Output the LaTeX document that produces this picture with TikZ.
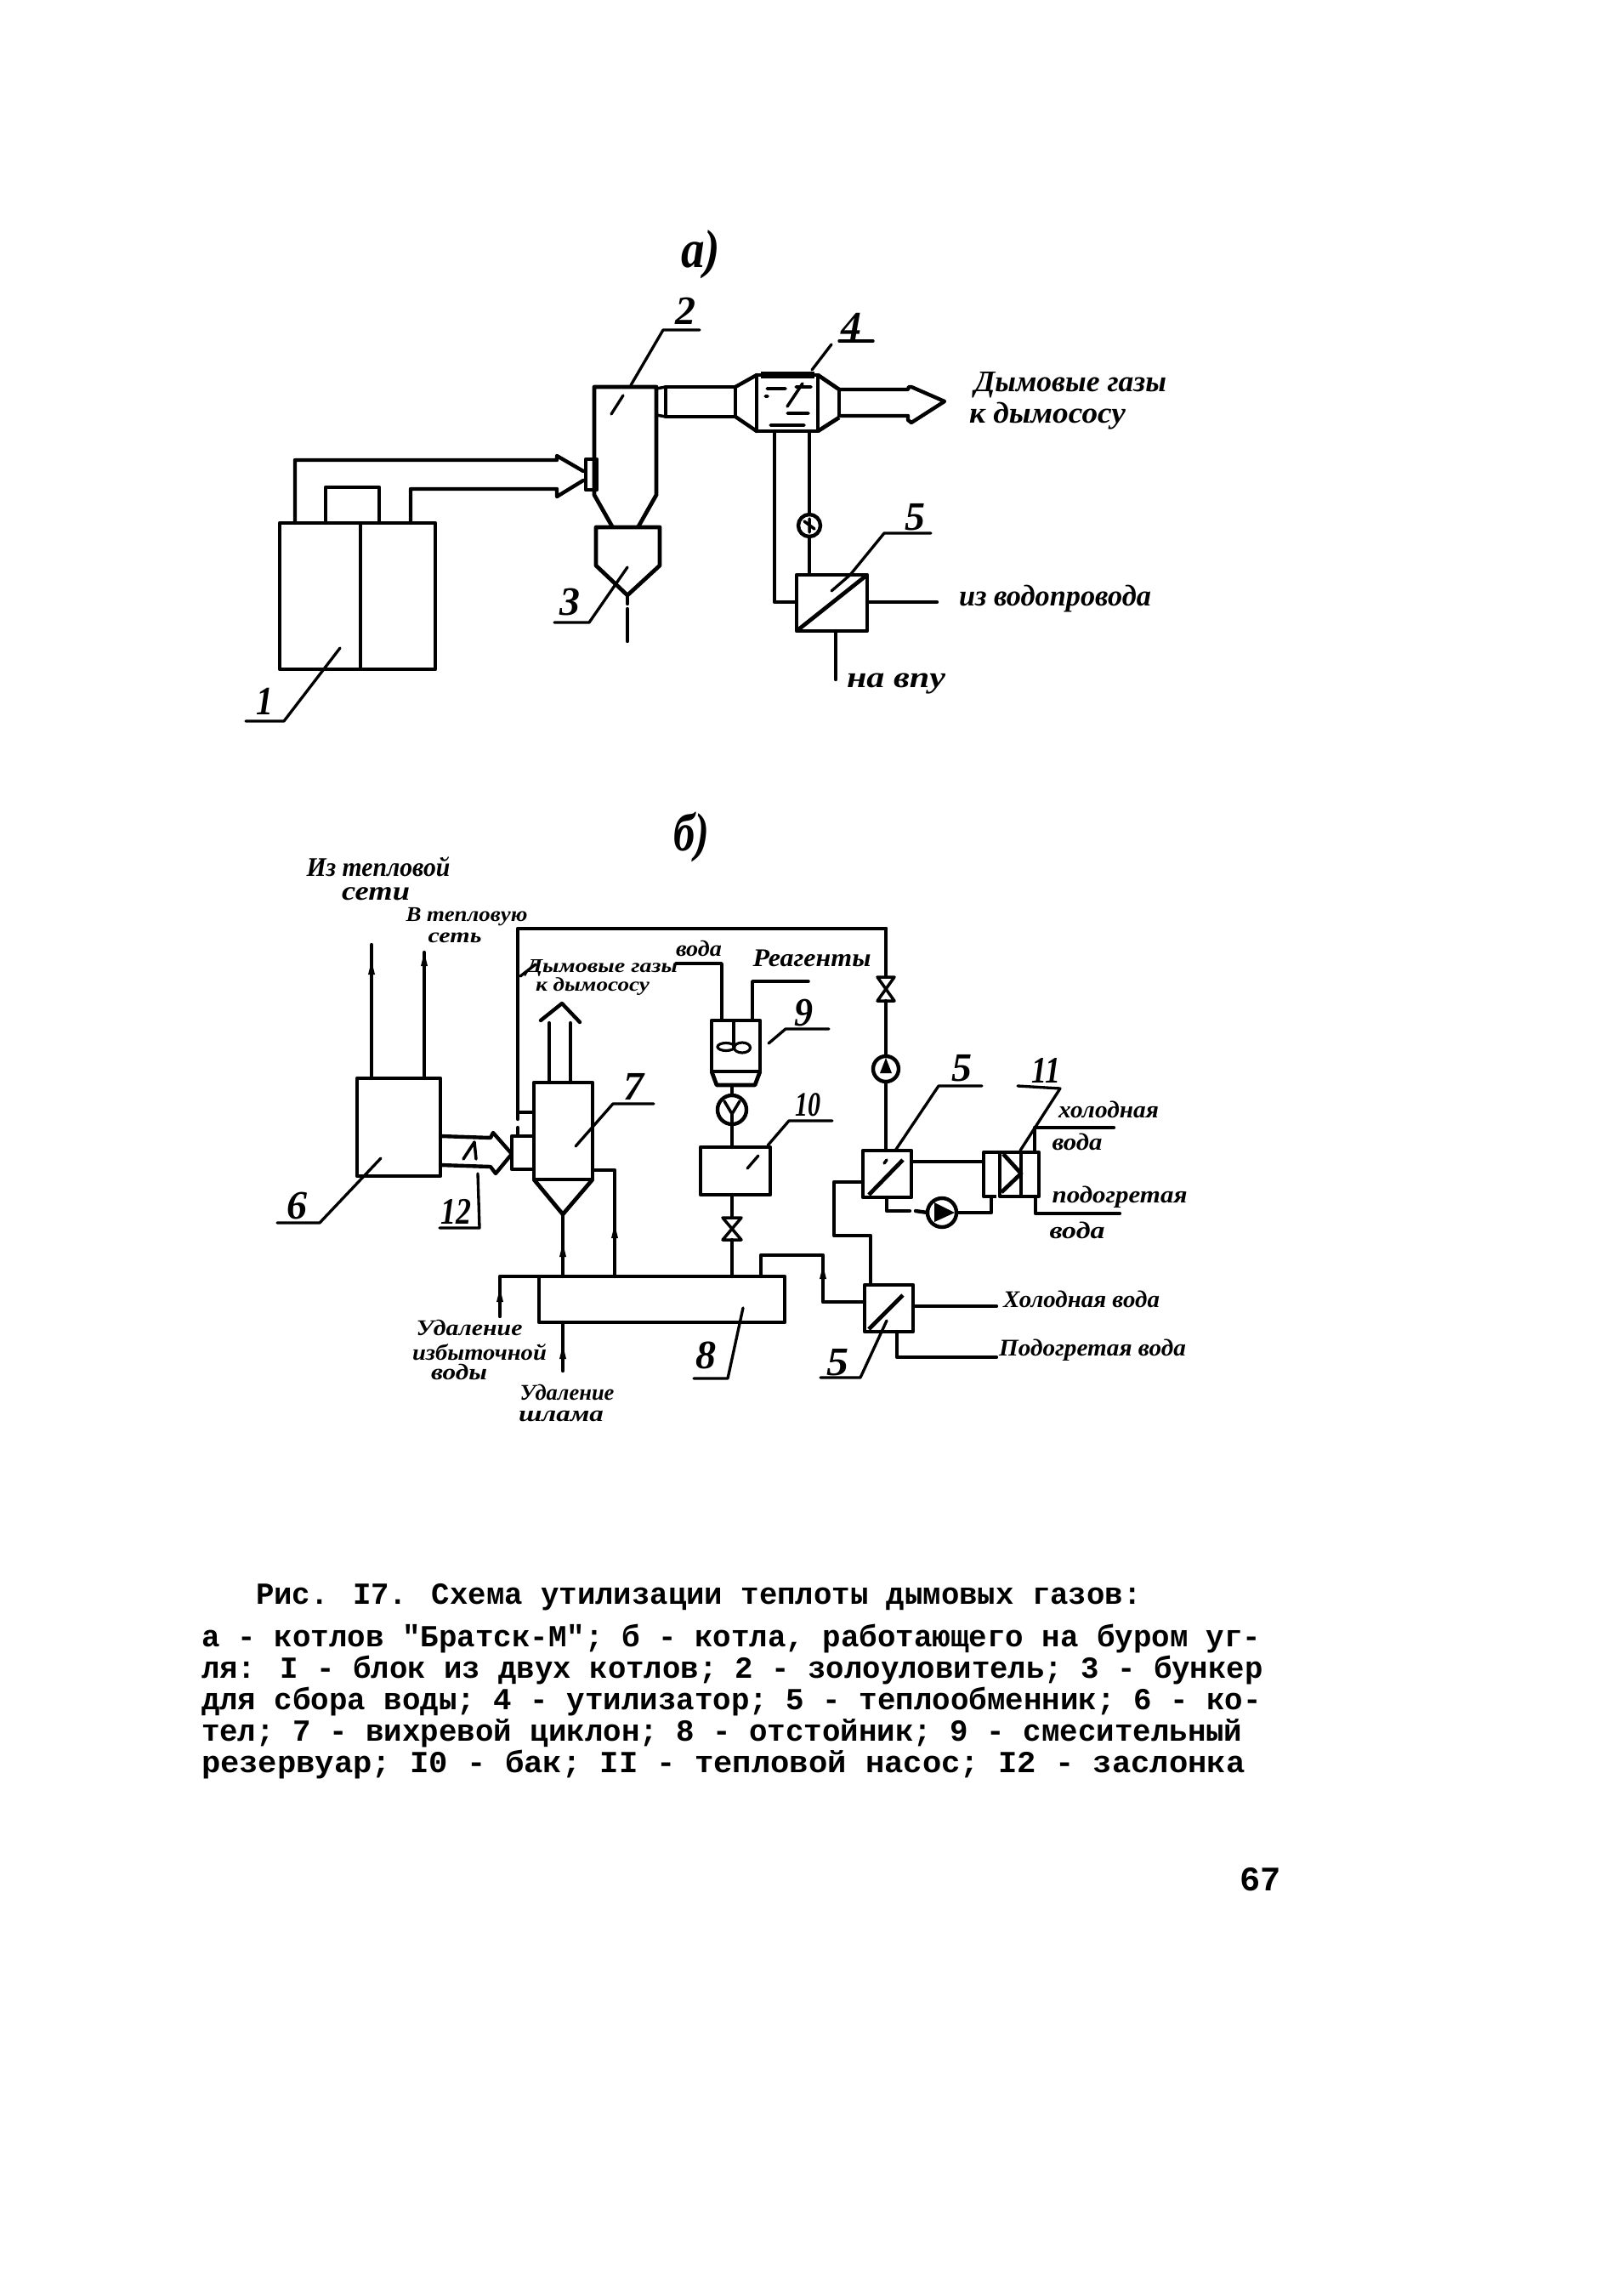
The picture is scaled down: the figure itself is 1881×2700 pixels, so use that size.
\documentclass[tikz,border=0pt]{standalone}
\usepackage{fontspec}
\setmainfont{Liberation Serif}
\newfontfamily\handf{Liberation Serif}
\newfontfamily\typef{Liberation Mono}
\newdimen\pxu \pxu=0.5690pt
% hand-lettered text: width in px, font size in pt
\newcommand\hw[3]{\resizebox{#1\pxu}{\height}{\fontsize{#2}{#2}\handf\bfseries\itshape #3}}
% typewritten caption line fitted to a width in px
\newcommand\tw[2]{\resizebox{#1\pxu}{\height}{\fontsize{20.5}{24}\typef\bfseries #2}}
\newcommand\rbox[5]{\node[proc,minimum width={(#4-#2)*0.02cm},minimum height={(#5-#3)*0.02cm}] (#1) at ({(#2+#4)/2},{(#3+#5)/2}) {};}
\newcommand\vlv[5]{\coordinate (#1) at (#2,#3); \draw[thinp] ($(#1)+(-#4,-#5)$) -- ($(#1)+(#4,-#5)$) -- ($(#1)+(-#4,#5)$) -- ($(#1)+(#4,#5)$) -- cycle;}
\newcommand\tickup[2]{\fill (#1-4,#2+8) -- (#1,#2-8) -- (#1+4,#2+8) -- cycle;}
\usetikzlibrary{calc,shapes.geometric}
\tikzset{
 proc/.style={draw,line width=2.7pt,rectangle,inner sep=0pt,outer sep=0pt,line join=round},
 pipe/.style={line width=2.5pt,line join=round,line cap=round},
 thinp/.style={line width=2pt,line join=round,line cap=round},
 lead/.style={line width=1.9pt,line join=round,line cap=round},
 pumpc/.style={draw,circle,line width=2.5pt,inner sep=0pt,outer sep=0pt},
 mixb/.style={draw,ellipse,line width=1.8pt,inner sep=0pt,outer sep=0pt},
 lbl/.style={inner sep=0pt,outer sep=0pt,anchor=center},
 capt/.style={inner sep=0pt,outer sep=0pt,anchor=west},
}
\begin{document}
\begin{tikzpicture}[x=0.02cm,y=-0.02cm]
\useasboundingbox (0,0) rectangle (1881,2700);
\fill[white] (0,0) rectangle (1881,2700);

% ===== a) =====
\node[lbl] (ta) at (824,299) {\hw{46}{36}{а)}};

% block 1
\rbox{b1}{329}{615}{512}{787}
\draw[proc] (424,0 |- b1.north) -- (424,0 |- b1.south);
\coordinate (gA) at (655,541);
\coordinate (gB) at (655,575);
\draw[pipe] (347,0 |- b1.north) |- (gA) -- (655,536) -- (686,554);
\draw[pipe] (483,0 |- b1.north) |- (gB) -- (655,584) -- (686,565);
\draw[pipe] (383,0 |- b1.north) |- (446,573) -- (446,0 |- b1.north);
% nozzle
\rbox{nz}{689}{540}{702}{576}
% cyclone 2
\draw[proc] (720,619) -- (699,582) -- (699,455) -- (772,455) -- (772,582) -- (751,619);
% bunker 3
\draw[proc] (738,700) -- (701,665) -- (701,620) -- (776,620) -- (776,665) -- cycle;
\draw[pipe] (738,700) -- (738,710);
\draw[pipe] (738,716) -- (738,754);
% duct
\rbox{dc}{783}{455}{865}{490}
\draw[thinp] (772,457) -- (dc.north west);
\draw[thinp] (772,488) -- (dc.south west);
% heat recovery 4
\rbox{u4}{890}{441}{962}{507}
\draw[pipe] (dc.north east) -- (u4.north west);
\draw[pipe] (dc.south east) -- (u4.south west);
\draw[proc] (987,458) -- (u4.north east);
\draw[proc] (987,491) -- (u4.south east);
\draw[proc] (987,458) -- (987,491);
\draw[line width=4pt] (895,441) -- (958,441);
\draw[thinp] (902,457) -- (924,457) (936,455) -- (954,455) (944,451) -- (926,478) (926,486) -- (951,486) (906,500) -- (946,500) (900,466) -- (903,466);
% outlet arrow
\draw[pipe] (987,458) -- (1068,458) -- (1069,455) -- (1072,455) -- (1111,472) -- (1072,497) -- (1068,494) -- (1068,489) -- (987,489);
% heat exchanger 5
\rbox{h5a}{937}{676}{1020}{742}
\draw[proc] (h5a.south west) -- (h5a.north east);
\node[pumpc,minimum size=26*0.02cm] (pa) at (952,618) {};
\draw[thinp] ($(pa)+(-6,-5)$) -- ($(pa)+(6,4)$) ($(pa)+(0,-8)$) -- ($(pa)+(0,8)$);
\draw[pipe] (911,0 |- u4.south) |- (936,708);
\draw[pipe] (pa |- u4.south) -- (pa.north);
\draw[pipe] (pa.south) -- (pa |- h5a.north);
\coordinate (wA) at (1102,708);
\draw[pipe] (h5a.east |- wA) -- (wA);
\coordinate (wB) at (983,799);
\draw[pipe] (wB |- h5a.south) -- (wB);
% leaders a)
\draw[lead] (823,388) -- (780,388) -- (742,453);
\draw[lead] (733,465) -- (719,487);
\draw[lead] (652,732) -- (693,732) -- (738,667);
\draw[lead] (289,848) -- (334,848) -- (400,762);
\draw[lead] (955,435) -- (978,405);
\draw[lead] (987,401) -- (1027,401);
\draw[lead] (1095,627) -- (1040,627) -- (1000,676);
\draw[lead] (1000,676) -- (978,695);
% numbers a)
\node[lbl] (n2) at (806,366) {\hw{24}{27}{2}};
\node[lbl] (n3) at (670,708) {\hw{24}{27}{3}};
\node[lbl] (n1) at (311,825) {\hw{20}{27}{1}};
\node[lbl] (n4) at (1001,384) {\hw{24}{27}{4}};
\node[lbl] (n5) at (1076,608) {\hw{24}{27}{5}};
% texts a)
\node[lbl] (t1) at (1259,453) {\hw{226}{20}{Дымовые газы}};
\node[lbl] (t2) at (1232,489) {\hw{184}{20}{к дымососу}};
\node[lbl] (t3) at (1241,704) {\hw{226}{20}{из водопровода}};
\node[lbl] (t4) at (1054,804) {\hw{116}{20}{на впу}};

% ===== б) =====
\node[lbl] (tb) at (813,985) {\hw{42}{36}{б)}};
% boiler 6
\rbox{b6}{420}{1268}{518}{1383}
\coordinate (n6a) at (437,1111);
\coordinate (n6b) at (499,1120);
\draw[pipe] (n6a |- b6.north) -- (n6a);
\draw[pipe] (n6b |- b6.north) -- (n6b);
\tickup{437}{1138}
\tickup{499}{1128}
% gas duct with damper
\draw[pipe] (518,1336) -- (577,1338) -- (580,1332) -- (602,1357) -- (583,1380) -- (577,1372) -- (518,1370);
\draw[thinp] (545,1363) -- (558,1343) -- (560,1363);
% nozzle + cyclone 7
\rbox{c7}{628}{1273}{697}{1387}
\rbox{nz7}{602}{1336}{628}{1375}
\draw[proc] (c7.south west) -- (662,1428) -- (c7.south east);
% gas outlet
\coordinate (o7) at (661,1180);
\draw[pipe] (646,0 |- c7.north) -- (646,1203);
\draw[pipe] (671,0 |- c7.north) -- (671,1203);
\draw[pipe] (636,1200) -- (o7) -- (682,1202);
% settler 8
\rbox{s8}{634}{1501}{923}{1555}
\draw[pipe] (662,1428) -- (662,0 |- s8.north);
\tickup{662}{1470}
\draw[pipe] (697,1376) -| (723,0 |- s8.north);
\tickup{723}{1448}
\coordinate (lo) at (588,1548);
\draw[pipe] (s8.north west) -| (lo);
\tickup{588}{1523}
\coordinate (sl) at (662,1612);
\draw[pipe] (sl |- s8.south) -- (sl);
\tickup{662}{1590}
% water header
\coordinate (tl) at (609,1092);
\draw[pipe] (609,1316) -- (tl) -- (1042,1092);
\draw[pipe] (609,1326) -- (609,1336);
\draw[pipe] (609,1308) -- (628,1308);
\draw[lead] (612,1148) -- (630,1134);
% mixer 9
\draw[proc] (837,1200) rectangle (894,1260);
\draw[proc] (837,1260) -- (843,1276) -- (888,1276) -- (894,1260);
\coordinate (m9) at (863,1231);
\draw[thinp] (863,1200) -- (m9);
\node[mixb,minimum width=20*0.02cm,minimum height=9*0.02cm] (e1) at (854,1231) {};
\node[mixb,minimum width=19*0.02cm,minimum height=12*0.02cm] (e2) at (873,1232) {};
\draw[thinp] (795,1133) -| (849,1200);
\draw[thinp] (885,1200) |- (951,1154);
% pump, tank 10
\node[pumpc,minimum size=34*0.02cm] (p9) at (861,1305) {};
\rbox{t10}{824}{1349}{906}{1405}
\draw[pipe] (861,1276) -- (p9.north);
\draw[thinp] ($(p9)+(-9,-10)$) -- ($(p9)+(0,5)$) -- ($(p9)+(9,-10)$);
\draw[pipe] ($(p9)+(0,5)$) -- (861,0 |- t10.north);
% valve tank-settler
\vlv{v2}{861}{1445}{11}{13}
\draw[pipe] (861,0 |- t10.south) -- ($(v2)+(0,-13)$);
\draw[pipe] ($(v2)+(0,13)$) -- (861,0 |- s8.north);
% exchangers
\rbox{h5c}{1015}{1353}{1072}{1408}
\rbox{h5b}{1017}{1511}{1074}{1566}
\draw[proc] (1022,1405) -- (1062,1364);
\draw[proc] (1022,1563) -- (1062,1523);
\draw[thinp] (1040,1368) -- (1043,1364);
% header down to 5
\vlv{v1}{1042}{1163}{10}{14}
\node[pumpc,minimum size=30*0.02cm] (p5) at (1042,1257) {};
\draw[pipe] (1042,1092) -- ($(v1)+(0,-14)$);
\draw[pipe] ($(v1)+(0,14)$) -- (p5.north);
\fill (1042,1244) -- (1049,1262) -- (1035,1262) -- cycle;
\draw[pipe] (p5.south) -- (1042,0 |- h5c.north);
% settler to 5b
\coordinate (hA) at (968,1476);
\draw[pipe] (895,0 |- s8.north) |- (hA) |- (h5b.west |- 0,1531);
\tickup{968}{1496}
\draw[pipe] (1024,0 |- h5b.north) |- (981,1453) |- (h5c.west |- 0,1390);
\coordinate (wC) at (1172,1536);
\coordinate (wD) at (1172,1596);
\draw[pipe] (h5b.east |- wC) -- (wC);
\draw[pipe] (1055,0 |- h5b.south) |- (wD);
% heat pump 11
\draw[proc] (1176,1355) -- (1157,1355) -- (1157,1407) -- (1172,1407);
\rbox{hp}{1176}{1355}{1222}{1407}
\draw[proc] (1201,1355) -- (1201,1407);
\draw[proc] (1180,1357) -- (1201,1380) -- (1178,1402);
\draw[pipe] (h5c.east |- 0,1366) -- (1157,1366);
\node[pumpc,minimum size=34*0.02cm] (p11) at (1108,1426) {};
\fill (1099,1414) -- (1123,1426) -- (1099,1437) -- cycle;
\draw[pipe] (1043,0 |- h5c.south) |- (1070,1424);
\draw[pipe] (1077,1424) -- (p11.west);
\draw[pipe] (p11.east) -| (1166,1407);
\coordinate (wE) at (1310,1326);
\coordinate (wF) at (1317,1427);
\draw[pipe] (1217,0 |- hp.north) |- (wE);
\draw[pipe] (1218,0 |- hp.south) |- (wF);
% leaders б)
\draw[lead] (448,1362) -- (376,1438) -- (326,1438);
\draw[lead] (562,1380) -- (564,1444) -- (517,1444);
\draw[lead] (677,1348) -- (721,1298) -- (769,1298);
\draw[lead] (904,1227) -- (924,1210) -- (975,1210);
\draw[lead] (903,1347) -- (928,1318) -- (979,1318);
\draw[lead] (879,1374) -- (892,1359);
\draw[lead] (874,1538) -- (856,1621) -- (816,1621);
\draw[lead] (1053,1353) -- (1104,1277) -- (1155,1277);
\draw[lead] (1043,1553) -- (1012,1620) -- (965,1620);
\draw[lead] (1200,1353) -- (1247,1280) -- (1197,1277);
% numbers б)
\node[lbl] (n6) at (349,1418) {\hw{24}{27}{6}};
\node[lbl] (n12) at (536,1425) {\hw{36}{25}{12}};
\node[lbl] (n7) at (745,1278) {\hw{24}{27}{7}};
\node[lbl] (n9) at (945,1191) {\hw{22}{27}{9}};
\node[lbl] (n10) at (950,1299) {\hw{30}{23}{10}};
\node[lbl] (n8) at (830,1594) {\hw{24}{27}{8}};
\node[lbl] (n5b) at (1131,1256) {\hw{24}{27}{5}};
\node[lbl] (n5c) at (985,1602) {\hw{26}{27}{5}};
\node[lbl] (n11) at (1230,1259) {\hw{34}{25}{11}};
% texts б)
\node[lbl] (x1) at (445,1019) {\hw{169}{18}{Из тепловой}};
\node[lbl] (x2) at (442,1051) {\hw{80}{18}{сети}};
\node[lbl] (x3) at (549,1078) {\hw{143}{14}{В тепловую}};
\node[lbl] (x4) at (535,1103) {\hw{63}{14}{сеть}};
\node[lbl] (x5) at (708,1138) {\hw{178}{13}{Дымовые газы}};
\node[lbl] (x6) at (697,1160) {\hw{134}{13}{к дымососу}};
\node[lbl] (x7) at (822,1115) {\hw{54}{15}{вода}};
\node[lbl] (x8) at (955,1127) {\hw{139}{17}{Реагенты}};
\node[lbl] (x9) at (552,1561) {\hw{125}{15}{Удаление}};
\node[lbl] (x10) at (564,1590) {\hw{158}{15}{избыточной}};
\node[lbl] (x11) at (540,1613) {\hw{66}{15}{воды}};
\node[lbl] (x12) at (667,1637) {\hw{111}{15}{Удаление}};
\node[lbl] (x13) at (660,1665) {\hw{100}{15}{шлама}};
\node[lbl] (x14) at (1304,1305) {\hw{118}{16}{холодная}};
\node[lbl] (x15) at (1267,1343) {\hw{59}{16}{вода}};
\node[lbl] (x16) at (1317,1408) {\hw{159}{16}{подогретая}};
\node[lbl] (x17) at (1267,1447) {\hw{65}{16}{вода}};
\node[lbl] (x18) at (1272,1528) {\hw{184}{16}{Холодная вода}};
\node[lbl] (x19) at (1285,1588) {\hw{220}{16}{Подогретая вода}};

% caption
\node[capt] (c0) at (301,1878) {\tw{1042}{Рис. I7. Схема утилизации теплоты дымовых газов:}};
\node[capt] (c1) at (237,1927) {\tw{1247}{а - котлов "Братск-М"; б - котла, работающего на буром уг-}};
\node[capt] (c2) at (237,1964) {\tw{1249}{ля: I - блок из двух котлов; 2 - золоуловитель; 3 - бункер}};
\node[capt] (c3) at (237,2001) {\tw{1247}{для сбора воды; 4 - утилизатор; 5 - теплообменник; 6 - ко-}};
\node[capt] (c4) at (237,2038) {\tw{1225}{тел; 7 - вихревой циклон; 8 - отстойник; 9 - смесительный}};
\node[capt] (c5) at (237,2075) {\tw{1228}{резервуар; I0 - бак; II - тепловой насос; I2 - заслонка}};
\node[capt,font=\fontsize{23}{24}\typef\bfseries] (pg) at (1458,2210) {67};
\end{tikzpicture}
\end{document}
